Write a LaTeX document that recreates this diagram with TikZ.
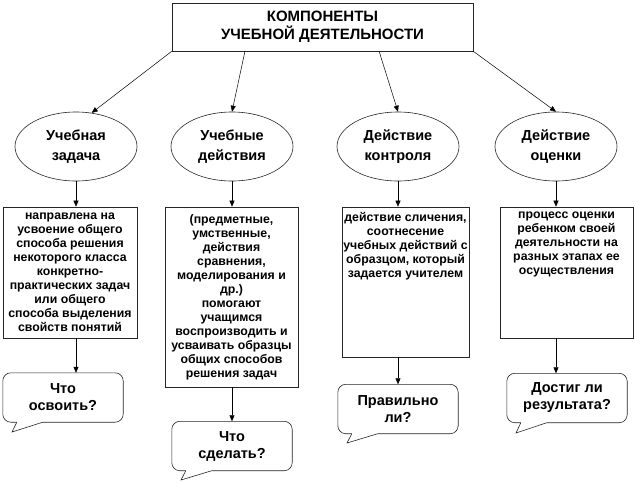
\documentclass[tikz,border=0pt]{standalone}
\usepackage{fontspec}
\setmainfont{Liberation Sans}
\usetikzlibrary{arrows.meta,calc,shapes.geometric}
\newcommand\bubbleshape[2]{%
  \draw[line, rounded corners=8pt] (#1.south west) rectangle (#1.north east);
  \fill[white] ($(#1.south west)+(14,1.5)$) -- (#2) -- ($(#1.south west)+(40,1.5)$) -- ($(#1.south west)+(40,-1)$) -- ($(#1.south west)+(14,-1)$) -- cycle;
  \draw[line] ($(#1.south west)+(14,0)$) -- (#2) -- ($(#1.south west)+(40,0)$);
}
\begin{document}
\begin{tikzpicture}[x=1pt,y=-1pt,
  line/.style={draw=black!85, line width=0.6pt},
  arr/.style={-{Triangle[length=6pt,width=5pt]}, line width=0.5pt},
  topbox/.style={line, fill=white, minimum width=301pt, minimum height=48pt, inner sep=0pt, align=center, font=\bfseries\fontsize{15}{18}\selectfont},
  oval/.style={ellipse, line, minimum width=122pt, minimum height=69pt, inner sep=0pt, align=center, font=\bfseries\fontsize{14.5}{20}\selectfont},
  infobox/.style={line, inner sep=0pt, align=center, font=\bfseries\fontsize{12.3}{14}\selectfont},
  infotext/.style={inner sep=0pt, align=center, font=\bfseries\fontsize{12.3}{14}\selectfont, anchor=north},
  bubble/.style={inner sep=0pt, align=center, minimum width=120pt, minimum height=49pt, font=\bfseries\fontsize{14.5}{17}\selectfont},
]
\useasboundingbox[fill=white] (0,0) rectangle (635,485);

% top box
\node[topbox] (top) at (322.5,27) {КОМПОНЕНТЫ\\УЧЕБНОЙ ДЕЯТЕЛЬНОСТИ};

% ellipses
\node[oval] (e1) at (76,146.5) {Учебная\\задача};
\node[oval] (e2) at (232,146.5) {Учебные\\действия};
\node[oval] (e3) at (398,146.5) {Действие\\контроля};
\node[oval] (e4) at (556,146.5) {Действие\\оценки};

\coordinate (s2) at (245,51);
\coordinate (s3) at (379,51);
\draw[arr] (top.south west) -- (e1.65);
\draw[arr] (s2) -- (e2.north);
\draw[arr] (s3) -- (e3.north);
\draw[arr] (top.south east) -- (e4.north);

% boxes
\node[infobox, minimum width=134pt, minimum height=131pt] (b1) at (70,272.5)
  {направлена на\\усвоение общего\\способа решения\\некоторого класса\\конкретно-\\практических задач\\или общего\\способа выделения\\свойств понятий};
\node[infobox, minimum width=133pt, minimum height=180pt] (b2) at (231.5,297)
  {(предметные,\\умственные,\\действия\\сравнения,\\моделирования и\\др.)\\помогают\\учащимся\\воспроизводить и\\усваивать образцы\\общих способов\\решения задач};
\node[infobox, minimum width=127pt, minimum height=150pt] (b3) at (405.5,282) {};
\node[infotext] (t3) at ($(b3.north)+(0,5)$)
  {действие сличения,\\соотнесение\\учебных действий с\\образцом, который\\задается учителем};
\node[infobox, minimum width=133pt, minimum height=131pt] (b4) at (566.5,272.5) {};
\node[infotext] (t4) at ($(b4.north)+(0,5)$)
  {процесс оценки\\ребенком своей\\деятельности на\\разных этапах ее\\осуществления};

\draw[arr] (e1.south) -- (e1.south |- b1.north);
\draw[arr] (e2.south) -- (e2.south |- b2.north);
\draw[arr] (e3.south) -- (e3.south |- b3.north);
\draw[arr] (e4.south) -- (e4.south |- b4.north);

% bubbles
\node[bubble] (c1) at (63,397.5) {Что\\освоить?};
\node[bubble] (c2) at (232,446) {Что\\сделать?};
\node[bubble] (c3) at (398,409) {Правильно\\ли?};
\node[bubble] (c4) at (567,398) {Достиг ли\\результата?};
\coordinate (p1) at (12,432);
\coordinate (p2) at (181,480);
\coordinate (p3) at (347,443);
\coordinate (p4) at (516,433);
\bubbleshape{c1}{p1}
\bubbleshape{c2}{p2}
\bubbleshape{c3}{p3}
\bubbleshape{c4}{p4}

\draw[arr] (e1.south |- b1.south) -- (e1.south |- c1.north);
\draw[arr] (e2.south |- b2.south) -- (e2.south |- c2.north);
\draw[arr] (e3.south |- b3.south) -- (e3.south |- c3.north);
\draw[arr] (e4.south |- b4.south) -- (e4.south |- c4.north);
\end{tikzpicture}
\end{document}
